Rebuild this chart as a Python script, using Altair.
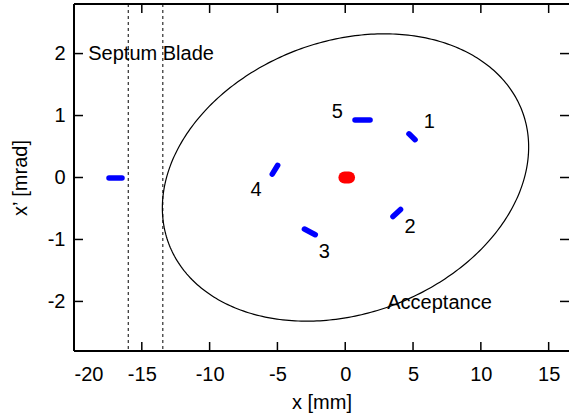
import altair as alt
import numpy as np
import pandas as pd

FONT = "Liberation Sans"
W, H = 495, 347

# Axis ranges and tick values
X_DOMAIN = [-20, 16.5]
Y_DOMAIN = [-2.8, 2.8]
x_ticks = [-20, -15, -10, -5, 0, 5, 10, 15]
y_ticks = [-2, -1, 0, 1, 2]

# Septum blade edges [mm]
septum_x = [-16.0, -13.45]

# Acceptance ellipse (Twiss parameters)
acc_alpha = -0.217
acc_beta = 5.96      # m
acc_eps = 30.6       # mm mrad
acc_x0, acc_y0 = 0.02, 0.0

# Beamlets in phase space: each drawn as a short streak from (x0, y0) to (x1, y1)
beam_x0 = [4.70, 4.08, -3.01, -4.98, 0.72, -17.42]
beam_y0 = [0.705, -0.515, -0.832, 0.197, 0.927, -0.01]
beam_x1 = [5.15, 3.52, -2.21, -5.38, 1.83, -16.46]
beam_y1 = [0.611, -0.631, -0.923, 0.055, 0.927, -0.01]

# Central (circulating) beam core
core_x0, core_x1, core_y = [-0.06], [0.28], [0.0]

# Island numbers
label_text = ["1", "2", "3", "4", "5"]
label_x = [6.20, 4.78, -1.54, -6.58, -0.58]
label_y = [0.89, -0.80, -1.21, -0.20, 1.06]

# Annotations
note_text = ["Septum Blade", "Acceptance"]
note_x = [-18.95, 3.1]
note_y = [2.0, -2.02]

xs = alt.Scale(domain=X_DOMAIN, nice=False, zero=False)
ys = alt.Scale(domain=Y_DOMAIN, nice=False, zero=False)

# plain hyphen-minus in tick labels
plain_label = "toString(datum.value)"
x_axis = alt.Axis(values=x_ticks, ticks=False, domain=False, grid=False,
                  labelPadding=13, title="x [mm]", titlePadding=8, labelExpr=plain_label)
y_axis = alt.Axis(values=y_ticks, ticks=False, domain=False, grid=False,
                  labelPadding=9, title="x’ [mrad]", titlePadding=17, labelExpr=plain_label)


def X(field):
    return alt.X(f"{field}:Q", scale=xs, axis=x_axis)


def Y(field):
    return alt.Y(f"{field}:Q", scale=ys, axis=y_axis)


# Acceptance ellipse outline
t = np.linspace(0, 2 * np.pi, 361)
ell = pd.DataFrame({
    "i": np.arange(t.size),
    "x": acc_x0 + np.sqrt(acc_eps * acc_beta) * np.cos(t),
    "y": acc_y0 - np.sqrt(acc_eps / acc_beta) * (acc_alpha * np.cos(t) + np.sin(t)),
})
ellipse = alt.Chart(ell).mark_line(color="black", strokeWidth=1.2).encode(
    x=X("x"), y=Y("y"), order="i:Q")

septum = alt.Chart(pd.DataFrame({"x": septum_x})).mark_rule(
    color="black", strokeWidth=1, strokeDash=[3, 3]).encode(
    x=X("x"), y=alt.value(0), y2=alt.value(H))

beams = alt.Chart(pd.DataFrame({"x0": beam_x0, "y0": beam_y0, "x1": beam_x1, "y1": beam_y1})).mark_rule(
    color="#0000ff", strokeWidth=5.5, strokeCap="round").encode(
    x=X("x0"), y=Y("y0"), x2="x1:Q", y2="y1:Q")

core = alt.Chart(pd.DataFrame({"x0": core_x0, "x1": core_x1, "y": core_y})).mark_rule(
    color="#ff0000", strokeWidth=12, strokeCap="round").encode(
    x=X("x0"), x2="x1:Q", y=Y("y"))

labels = alt.Chart(pd.DataFrame({"x": label_x, "y": label_y, "t": label_text})).mark_text(
    font=FONT, fontSize=20, color="black", align="center", baseline="middle").encode(
    x=X("x"), y=Y("y"), text="t:N")

notes = alt.Chart(pd.DataFrame({"x": note_x, "y": note_y, "t": note_text})).mark_text(
    font=FONT, fontSize=20, color="black", align="left", baseline="middle").encode(
    x=X("x"), y=Y("y"), text="t:N")

# Inward tick marks on all four sides
xt = pd.DataFrame({"v": x_ticks})
yt = pd.DataFrame({"v": y_ticks})
tick_style = dict(color="black", strokeWidth=1.5)
ticks_bottom = alt.Chart(xt).mark_rule(**tick_style).encode(x=X("v"), y=alt.value(H), y2=alt.value(H - 9))
ticks_top = alt.Chart(xt).mark_rule(**tick_style).encode(x=X("v"), y=alt.value(0), y2=alt.value(9))
ticks_left = alt.Chart(yt).mark_rule(**tick_style).encode(y=Y("v"), x=alt.value(0), x2=alt.value(9))
ticks_right = alt.Chart(yt).mark_rule(**tick_style).encode(y=Y("v"), x=alt.value(W), x2=alt.value(W - 9))

# Frame
frame_style = dict(color="black", strokeWidth=1.5)
frame_left = alt.Chart(xt).mark_rule(**frame_style).encode(x=alt.value(0), y=alt.value(0), y2=alt.value(H))
frame_bottom = alt.Chart(xt).mark_rule(**frame_style).encode(y=alt.value(H), x=alt.value(0), x2=alt.value(W))
frame_top = alt.Chart(xt).mark_rule(**frame_style).encode(y=alt.value(0), x=alt.value(0), x2=alt.value(W))

chart = alt.layer(
    ellipse, septum, beams, core, labels, notes,
    ticks_bottom, ticks_top, ticks_left, ticks_right,
    frame_left, frame_bottom, frame_top,
).properties(
    width=W, height=H,
    autosize=alt.AutoSizeParams(type="none"),
    padding={"left": 74, "top": 4, "right": 0, "bottom": 69},
).configure_view(stroke=None).configure_axis(
    labelFont=FONT, labelFontSize=20, labelColor="black",
    titleFont=FONT, titleFontSize=20, titleColor="black", titleFontWeight="normal",
)

chart.save("out.html", embed_options={"renderer": "svg", "actions": False})
